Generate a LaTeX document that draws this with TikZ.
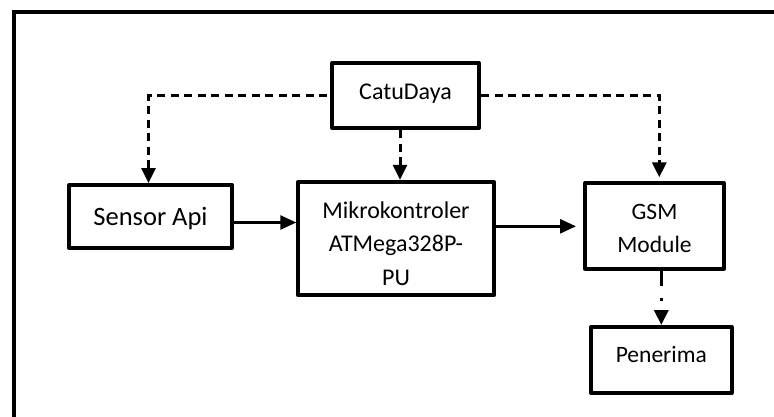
\documentclass[tikz,border=0pt]{standalone}
\usepackage{fontspec}
\setmainfont{Carlito}
\usetikzlibrary{arrows.meta,calc}
\tikzset{
  blockbox/.style={draw, line width=4pt, line join=round, rectangle, inner sep=0pt, align=center},
  fs/.style={font=\fontsize{#1}{33.5}\selectfont},
  powerline/.style={line width=3pt, dash pattern=on 8pt off 5.5pt, -{Triangle[width=14pt,length=15pt]}},
  sigline/.style={line width=2.7pt, -{Triangle[width=14pt,length=16pt]}},
  outline/.style={line width=4.3pt, line cap=rect}
}
\begin{document}
\begin{tikzpicture}[x=1pt,y=-1pt]
\useasboundingbox (0,0) rectangle (774,416);
\draw[outline] (13.7,430) -- (13.7,12.2) -- (790,12.2);

\node[blockbox, fs=24, minimum width=147pt, minimum height=65pt, text height=17pt, text depth=9pt] (catu) at (405.5,95.5) {CatuDaya};
\node[blockbox, fs=26.5, minimum width=163pt, minimum height=63pt, text height=20pt, text depth=3pt] (sensor) at (150.5,216.5) {Sensor Api};
\node[blockbox, fs=24, minimum width=195.5pt, minimum height=113.5pt] (mikro) at (396,238.5) {\rule{0pt}{27pt}Mikrokontroler\\ATMega328P-\\PU};
\node[blockbox, fs=23.5, minimum width=139pt, minimum height=85.4pt] (gsm) at (654.5,226) {\rule{0pt}{20pt}GSM\\Module};
\node[blockbox, fs=23.5, minimum width=140.7pt, minimum height=66pt, text height=17pt, text depth=12.4pt] (penerima) at (661.3,360) {Penerima};

\draw[powerline, shorten <=3pt] (catu.west) -| ([xshift=-2pt]sensor.north);
\draw[powerline] ([xshift=-5.5pt]catu.south) -- ([xshift=-5.5pt]catu.south |- mikro.north);
\draw[powerline, shorten >=4pt] (catu.east) -| ([xshift=4.8pt]gsm.north);
\draw[sigline] ([yshift=-6pt]sensor.east) -- ([yshift=-6pt]sensor.east -| mikro.west);
\draw[sigline, shorten >=7pt] ([yshift=12.2pt]mikro.east) -- ([yshift=12.2pt]mikro.east -| gsm.west);
\draw[line width=3.2pt, dash pattern=on 15pt off 12pt on 3pt off 12pt, -{Triangle[width=14pt,length=15pt]}] (gsm.south -| penerima.north) -- (penerima.north);
\end{tikzpicture}
\end{document}
